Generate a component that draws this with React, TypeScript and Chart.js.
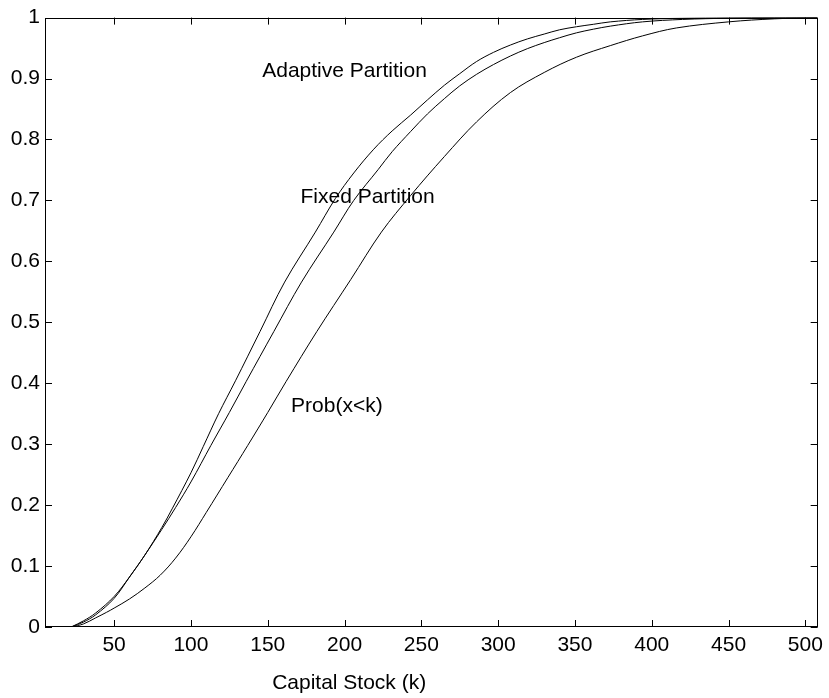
import { useEffect, useRef } from "react";
import { Chart, registerables } from "chart.js";

Chart.register(...registerables);

const FONT = "'Liberation Sans', Arial, Helvetica, sans-serif";

const adaptiveK = [22, 30, 38, 50, 60, 70, 81, 88, 100, 108, 118, 129, 145, 161, 181, 194, 206, 219, 231, 243, 254, 265, 275, 286, 297, 308, 319, 330, 340, 351, 362, 373, 394, 420, 450, 508];
const adaptiveP = [0, 0.008, 0.02, 0.047, 0.082, 0.118, 0.163, 0.195, 0.253, 0.296, 0.35, 0.404, 0.485, 0.566, 0.648, 0.703, 0.745, 0.784, 0.814, 0.84, 0.865, 0.889, 0.908, 0.928, 0.943, 0.955, 0.965, 0.973, 0.98, 0.985, 0.989, 0.993, 0.997, 0.999, 1, 1];

const fixedK = [22, 30, 38, 50, 60, 70, 81, 90, 100, 113, 125, 136, 154, 172, 193, 206, 222, 231, 243, 254, 265, 275, 286, 297, 308, 319, 330, 340, 351, 362, 373, 394, 420, 450, 480, 508];
const fixedP = [0, 0.01, 0.023, 0.05, 0.082, 0.118, 0.16, 0.196, 0.238, 0.298, 0.352, 0.403, 0.485, 0.566, 0.648, 0.7, 0.751, 0.78, 0.813, 0.842, 0.867, 0.888, 0.907, 0.923, 0.937, 0.949, 0.959, 0.967, 0.975, 0.981, 0.986, 0.993, 0.997, 0.999, 1, 1];

const probK = [22, 30, 38, 45, 50, 60, 70, 80, 90, 100, 110, 124, 137, 150, 162, 182, 204, 224, 243, 265, 286, 308, 330, 351, 373, 394, 416, 450, 480, 508];
const probP = [0, 0.005, 0.015, 0.024, 0.031, 0.046, 0.064, 0.085, 0.113, 0.148, 0.188, 0.245, 0.298, 0.352, 0.403, 0.485, 0.57, 0.648, 0.708, 0.772, 0.829, 0.877, 0.91, 0.935, 0.954, 0.97, 0.983, 0.993, 0.998, 1];

const xTicks = [50, 100, 150, 200, 250, 300, 350, 400, 450, 500];
const yTicks = [0, 0.1, 0.2, 0.3, 0.4, 0.5, 0.6, 0.7, 0.8, 0.9, 1];

const curveLabels = ["Adaptive Partition", "Fixed Partition", "Prob(x<k)"];
const labelK = [200, 215, 195];
const labelP = [0.912, 0.705, 0.362];

const X_TITLE = "Capital Stock (k)";
const X_TITLE_K = 203;

const X_MIN = 5;
const X_MAX = 508;
const FONT_SIZE = 21;

function pts(ks: number[], ps: number[]) {
  return ks.map((k, i) => ({ x: k, y: ps[i] }));
}

const framePlugin = {
  id: "frame",
  afterDatasetsDraw(chart: any) {
    const { ctx, chartArea, scales } = chart;
    const { left, right, top, bottom } = chartArea;
    ctx.save();
    ctx.strokeStyle = "#000";
    ctx.lineWidth = 1;
    ctx.strokeRect(Math.round(left) + 0.5, Math.round(top) + 0.5, Math.round(right - left) - 1, Math.round(bottom - top) - 1);
    const tl = 7;
    ctx.beginPath();
    for (const v of xTicks) {
      const x = Math.round(scales.x.getPixelForValue(v)) + 0.5;
      ctx.moveTo(x, bottom);
      ctx.lineTo(x, bottom - tl);
      ctx.moveTo(x, top);
      ctx.lineTo(x, top + tl);
    }
    for (const v of yTicks) {
      const y = Math.round(scales.y.getPixelForValue(v)) + 0.5;
      ctx.moveTo(left, y);
      ctx.lineTo(left + tl, y);
      ctx.moveTo(right, y);
      ctx.lineTo(right - tl, y);
    }
    ctx.stroke();
    ctx.fillStyle = "#000";
    ctx.font = `${FONT_SIZE}px ${FONT}`;
    ctx.textAlign = "center";
    ctx.textBaseline = "middle";
    curveLabels.forEach((t, i) => {
      ctx.fillText(t, scales.x.getPixelForValue(labelK[i]), scales.y.getPixelForValue(labelP[i]));
    });
    ctx.fillText(X_TITLE, scales.x.getPixelForValue(X_TITLE_K), bottom + 56);
    ctx.restore();
  },
};

export default function App() {
  const ref = useRef<HTMLCanvasElement | null>(null);
  useEffect(() => {
    if (!ref.current) return;
    const ds = (d: any) => ({
      data: d,
      borderColor: "#000",
      borderWidth: 1,
      pointRadius: 0,
      fill: false,
      tension: 0.35,
      cubicInterpolationMode: "default",
    });
    const chart = new Chart(ref.current, {
      type: "line",
      data: {
        datasets: [ds(pts(adaptiveK, adaptiveP)), ds(pts(fixedK, fixedP)), ds(pts(probK, probP))],
      },
      options: {
        animation: false,
        responsive: false,
        maintainAspectRatio: false,
        layout: { padding: { top: 14, right: 7, bottom: 0, left: 0 } },
        plugins: { legend: { display: false }, tooltip: { enabled: false } },
        scales: {
          x: {
            type: "linear",
            min: X_MIN,
            max: X_MAX,
            grid: { display: false, drawTicks: false },
            border: { display: false },
            afterBuildTicks: (s: any) => {
              s.ticks = xTicks.map((v) => ({ value: v }));
            },
            afterFit: (s: any) => {
              s.height = 71;
            },
            ticks: {
              color: "#000",
              font: { family: FONT, size: FONT_SIZE },
              padding: 6,
              maxRotation: 0,
              autoSkip: false,
              callback: (v: any) => String(v),
            },
          },
          y: {
            type: "linear",
            min: 0,
            max: 1,
            grid: { display: false, drawTicks: false },
            border: { display: false },
            afterBuildTicks: (s: any) => {
              s.ticks = yTicks.map((v) => ({ value: v }));
            },
            afterFit: (s: any) => {
              s.width = 45;
            },
            ticks: {
              color: "#000",
              font: { family: FONT, size: FONT_SIZE },
              padding: 5,
              autoSkip: false,
              callback: (v: any) => String(Math.round(v * 10) / 10),
            },
          },
        },
      } as any,
      plugins: [framePlugin],
    });
    return () => chart.destroy();
  }, []);
  return (
    <div style={{ position: "absolute", left: 0, top: 0, width: 829, height: 698, background: "#fff" }}>
      <canvas ref={ref} width={829} height={698} style={{ display: "block", width: 829, height: 698 }} />
    </div>
  );
}
